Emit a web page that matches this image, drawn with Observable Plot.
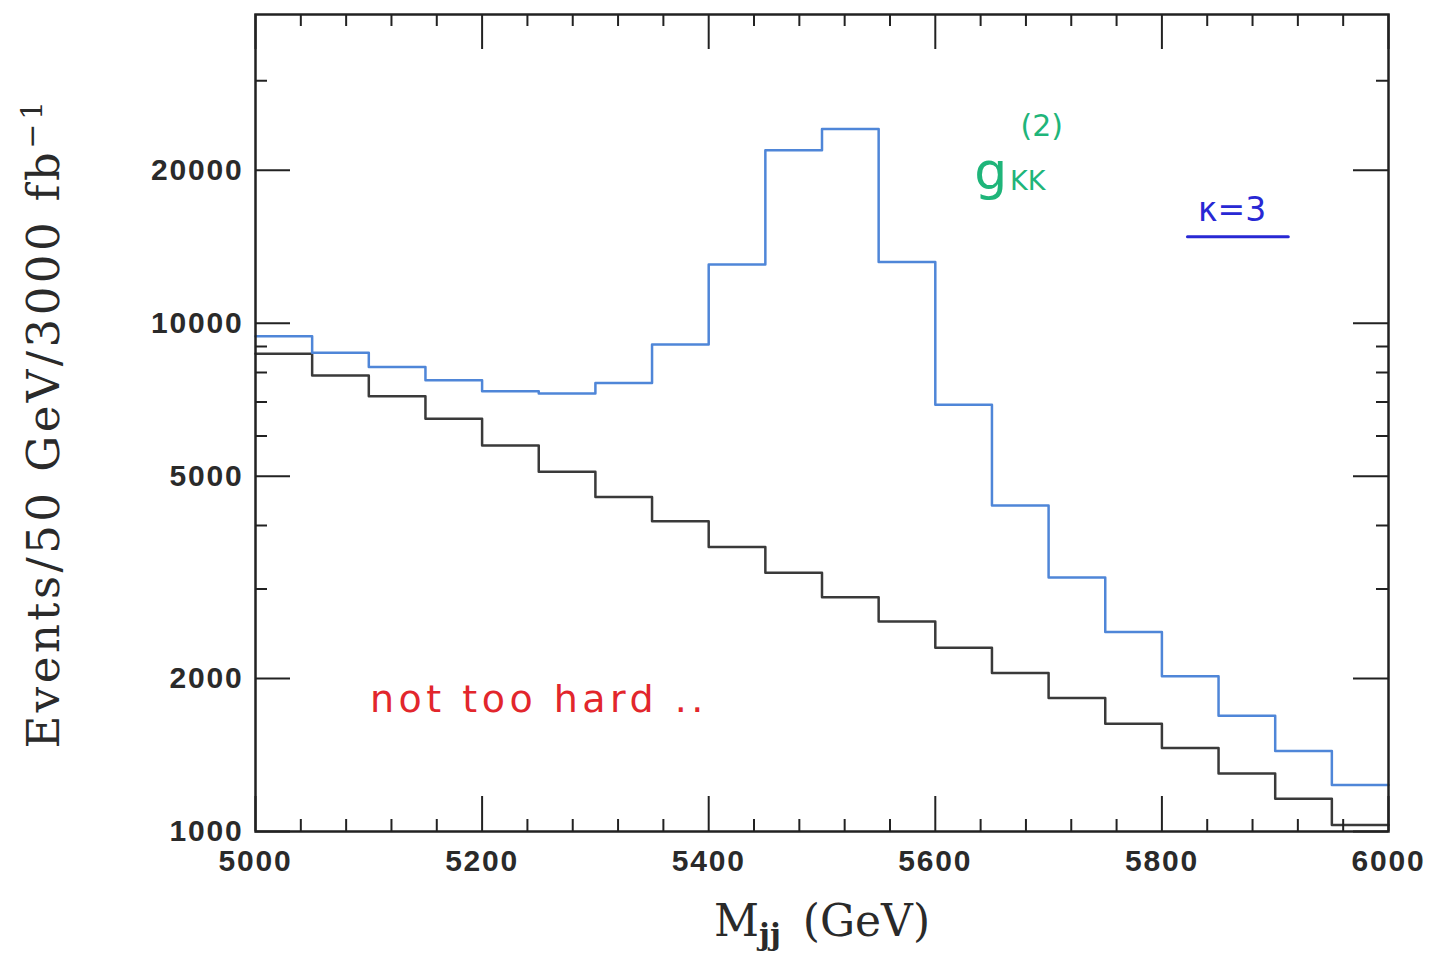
<!DOCTYPE html>
<html>
<head>
<meta charset="utf-8">
<script src="https://cdn.jsdelivr.net/npm/d3@7"></script>
<script src="https://cdn.jsdelivr.net/npm/@observablehq/plot@0.6"></script>
<style>
  html, body { margin: 0; padding: 0; background: #fff; }
  g[aria-label="x-axis tick label"] text, g[aria-label="y-axis tick label"] text { letter-spacing: 1.8px; }
</style>
</head>
<body>
<div id="chart"></div>
<script>
// ---- data ----
const binStart = [5000, 5050, 5100, 5150, 5200, 5250, 5300, 5350, 5400, 5450,
                  5500, 5550, 5600, 5650, 5700, 5750, 5800, 5850, 5900, 5950];
const binWidth = 50;
// signal + background (blue histogram)
const signal = [9430, 8750, 8200, 7720, 7350, 7270, 7630, 9080, 13050, 21900,
                24100, 13200, 6910, 4380, 3160, 2470, 2020, 1690, 1440, 1235];
// QCD background (black histogram)
const background = [8710, 7890, 7180, 6490, 5750, 5100, 4550, 4080, 3630, 3230,
                    2890, 2590, 2300, 2050, 1830, 1630, 1460, 1300, 1160, 1030];

const xMajorTicks = [5000, 5200, 5400, 5600, 5800, 6000];
const xMinorTicks = [5040, 5080, 5120, 5160, 5240, 5280, 5320, 5360, 5440, 5480, 5520, 5560,
                     5640, 5680, 5720, 5760, 5840, 5880, 5920, 5960];
const yMajorTicks = [1000, 2000, 5000, 10000, 20000];
const yMinorTicks = [3000, 4000, 6000, 7000, 8000, 9000, 30000];

const yTitle = "Events/50 GeV/3000 fb";
const yTitleSup = "\u22121";
const xTitle = "M";
const xTitleSub = "jj";
const xTitleUnit = "(GeV)";
const noteRed = "not too hard ..";

// ---- build step tables ----
const edges = [...binStart, binStart[binStart.length - 1] + binWidth];
const stepRows = (vals) => edges.map((x, i) => ({x, y: vals[Math.min(i, vals.length - 1)]}));
const sigRows = stepRows(signal);
const bgRows = stepRows(background);

// ---- layout ----
const W = 1446, H = 960;
const mL = 255, mR = 58, mT = 14, mB = 129;
const innerW = W - mL - mR, innerH = H - mT - mB;
const majorLen = 35, minorLen = 12;
const tickColor = "#222";
const hand = "'DejaVu Sans', sans-serif";

const chart = Plot.plot({
  width: W, height: H,
  marginLeft: mL, marginRight: mR, marginTop: mT, marginBottom: mB,
  x: {domain: [5000, 6000]},
  y: {type: "log", domain: [1000, 40500]},
  style: {fontFamily: "'Liberation Sans', Arial, sans-serif", background: "#fff", color: "#222"},
  marks: [
    // histograms
    Plot.line(bgRows, {x: "x", y: "y", curve: "step-after", stroke: "#3a3a3a", strokeWidth: 2.5}),
    Plot.line(sigRows, {x: "x", y: "y", curve: "step-after", stroke: "#4f86d8", strokeWidth: 2.5}),

    // inward ticks: bottom
    Plot.ruleX(xMajorTicks, {insetTop: innerH - majorLen, stroke: tickColor, strokeWidth: 2}),
    Plot.ruleX(xMinorTicks, {insetTop: innerH - minorLen, stroke: tickColor, strokeWidth: 2}),
    // top
    Plot.ruleX(xMajorTicks, {insetBottom: innerH - majorLen, stroke: tickColor, strokeWidth: 2}),
    Plot.ruleX(xMinorTicks, {insetBottom: innerH - minorLen, stroke: tickColor, strokeWidth: 2}),
    // left
    Plot.ruleY(yMajorTicks, {insetRight: innerW - majorLen, stroke: tickColor, strokeWidth: 2}),
    Plot.ruleY(yMinorTicks, {insetRight: innerW - minorLen, stroke: tickColor, strokeWidth: 2}),
    // right
    Plot.ruleY(yMajorTicks, {insetLeft: innerW - majorLen, stroke: tickColor, strokeWidth: 2}),
    Plot.ruleY(yMinorTicks, {insetLeft: innerW - minorLen, stroke: tickColor, strokeWidth: 2}),

    // tick labels
    Plot.axisX({ticks: xMajorTicks, tickSize: 0, tickPadding: 18, label: null,
                tickFormat: d3.format("d"), fontSize: 30, fontWeight: "bold", fill: "#2a2a2a"}),
    Plot.axisY({ticks: yMajorTicks, tickSize: 0, tickPadding: 12, label: null,
                tickFormat: d3.format("d"), fontSize: 30, fontWeight: "bold", fill: "#2a2a2a"}),

    // axis titles
    Plot.text([yTitle], {text: d => d, frameAnchor: "left", textAnchor: "middle", rotate: -90, dx: -211,
                         fontFamily: "'DejaVu Serif', serif", fontSize: 45, fill: "#2a2a2a"}),
    Plot.text([xTitle], {text: d => d, frameAnchor: "bottom", textAnchor: "middle", dy: 104,
                         fontFamily: "'DejaVu Serif', serif", fontSize: 44, fill: "#2a2a2a"}),

    // handwritten annotations
    Plot.text(["g"], {text: d => d, x: 5649, y: 19800, fontFamily: hand,
                      fontSize: 52, fill: "#1fb57a"}),
    Plot.text(["KK"], {text: d => d, x: 5666, y: 19000, textAnchor: "start",
                       fontFamily: hand, fontSize: 27, fill: "#1fb57a"}),
    Plot.text(["(2)"], {text: d => d, x: 5694, y: 24400, fontFamily: hand,
                        fontSize: 30, fill: "#1fb57a"}),
    Plot.text(["\u03ba=3"], {text: d => d, x: 5862, y: 16700, fontFamily: hand,
                          fontSize: 33, fill: "#2828d4"}),
    Plot.ruleY([14800], {x1: 5823, x2: 5912, stroke: "#2828d4", strokeWidth: 3, strokeLinecap: "round"}),
    Plot.text([noteRed], {text: d => d, x: 5101, y: 1815, textAnchor: "start",
                          fontFamily: hand, fontSize: 38, fill: "#e2262c"}),

    Plot.frame({stroke: "#222", strokeWidth: 2.5})
  ]
});

document.getElementById("chart").appendChild(chart);

// superscript / subscript in axis titles
const svg = d3.select(chart);
const byText = (s) => svg.selectAll("text").filter(function () { return this.textContent === s; });

const yt = byText(yTitle);
yt.text(null).style("letter-spacing", "3.5px");
yt.append("tspan").text(yTitle);
yt.append("tspan").attr("dy", "-0.55em").attr("font-size", 30).text(yTitleSup);

const xt = byText(xTitle);
xt.text(null);
xt.append("tspan").text(xTitle);
xt.append("tspan").attr("dy", "0.3em").attr("font-size", 30).attr("font-weight", "bold").text(xTitleSub);
xt.append("tspan").attr("dy", "-0.2em").text("\u2002" + xTitleUnit);

byText(noteRed).style("letter-spacing", "4.5px");
</script>
</body>
</html>
